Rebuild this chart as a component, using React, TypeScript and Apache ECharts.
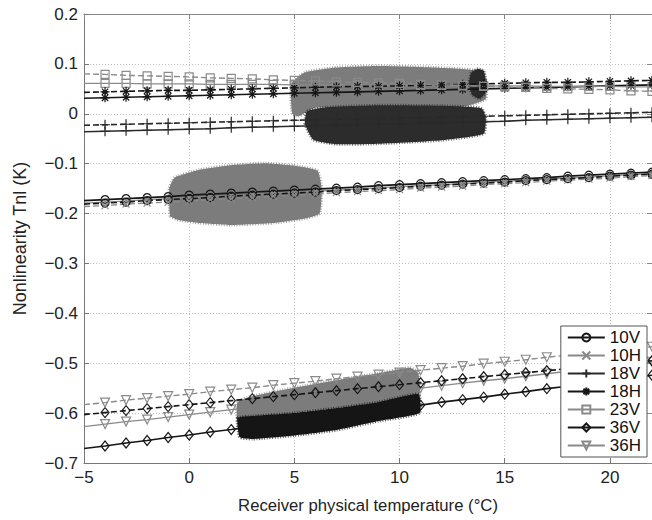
import React, { useEffect, useRef } from "react";
import * as echarts from "echarts";

// Receiver physical temperature (°C) at which the fitted curves are sampled
const temps = [-5, -4, -3, -2, -1, 0, 1, 2, 3, 4, 5, 6, 7, 8, 9, 10, 11, 12, 13, 14, 15, 16, 17, 18, 19, 20, 21, 22];

// Solid curves (one per channel)
const v10V = [-0.174, -0.172, -0.170, -0.168, -0.166, -0.163, -0.161, -0.159, -0.157, -0.155, -0.153, -0.151, -0.149, -0.147, -0.144, -0.142, -0.140, -0.138, -0.136, -0.134, -0.132, -0.130, -0.128, -0.125, -0.123, -0.121, -0.119, -0.117];
const v10H = [-0.179, -0.177, -0.175, -0.172, -0.170, -0.168, -0.166, -0.164, -0.162, -0.159, -0.157, -0.155, -0.153, -0.151, -0.148, -0.146, -0.144, -0.142, -0.140, -0.137, -0.135, -0.133, -0.131, -0.129, -0.127, -0.124, -0.122, -0.120];
const v18V = [-0.036, -0.035, -0.034, -0.033, -0.032, -0.031, -0.030, -0.028, -0.027, -0.026, -0.025, -0.024, -0.023, -0.022, -0.021, -0.020, -0.019, -0.018, -0.017, -0.016, -0.015, -0.013, -0.012, -0.011, -0.010, -0.009, -0.008, -0.007];
const v18H = [0.031, 0.032, 0.033, 0.034, 0.035, 0.036, 0.037, 0.038, 0.039, 0.040, 0.041, 0.042, 0.043, 0.044, 0.045, 0.046, 0.047, 0.048, 0.049, 0.050, 0.051, 0.052, 0.053, 0.054, 0.055, 0.056, 0.057, 0.058];
const v23V = [0.061, 0.061, 0.061, 0.060, 0.060, 0.060, 0.059, 0.059, 0.059, 0.059, 0.058, 0.058, 0.058, 0.058, 0.057, 0.057, 0.057, 0.057, 0.056, 0.056, 0.056, 0.056, 0.055, 0.055, 0.055, 0.055, 0.054, 0.054];
const v36V = [-0.671, -0.666, -0.660, -0.655, -0.649, -0.644, -0.638, -0.633, -0.627, -0.622, -0.617, -0.611, -0.606, -0.600, -0.595, -0.589, -0.584, -0.578, -0.573, -0.568, -0.562, -0.557, -0.551, -0.546, -0.540, -0.535, -0.529, -0.524];
const v36H = [-0.627, -0.622, -0.617, -0.613, -0.608, -0.603, -0.598, -0.593, -0.588, -0.584, -0.579, -0.574, -0.569, -0.564, -0.560, -0.555, -0.550, -0.545, -0.540, -0.535, -0.531, -0.526, -0.521, -0.516, -0.511, -0.507, -0.502, -0.497];

// Dashed curves (second estimate per channel)
const d10V = [-0.181, -0.179, -0.177, -0.174, -0.172, -0.170, -0.168, -0.165, -0.163, -0.161, -0.159, -0.157, -0.154, -0.152, -0.150, -0.148, -0.145, -0.143, -0.141, -0.139, -0.137, -0.134, -0.132, -0.130, -0.128, -0.125, -0.123, -0.121];
const d10H = [-0.186, -0.184, -0.181, -0.179, -0.177, -0.175, -0.172, -0.170, -0.168, -0.165, -0.163, -0.161, -0.158, -0.156, -0.154, -0.152, -0.149, -0.147, -0.145, -0.142, -0.140, -0.138, -0.135, -0.133, -0.131, -0.129, -0.126, -0.124];
const d18V = [-0.023, -0.022, -0.021, -0.020, -0.019, -0.018, -0.017, -0.016, -0.015, -0.014, -0.013, -0.012, -0.011, -0.010, -0.010, -0.009, -0.008, -0.007, -0.006, -0.005, -0.004, -0.003, -0.002, -0.001, 0.000, 0.001, 0.002, 0.003];
const d18H = [0.043, 0.044, 0.045, 0.046, 0.047, 0.047, 0.048, 0.049, 0.050, 0.051, 0.052, 0.053, 0.054, 0.055, 0.055, 0.056, 0.057, 0.058, 0.059, 0.060, 0.061, 0.062, 0.063, 0.063, 0.064, 0.065, 0.066, 0.067];
const d23V = [0.080, 0.079, 0.077, 0.076, 0.075, 0.074, 0.072, 0.071, 0.070, 0.068, 0.067, 0.066, 0.064, 0.063, 0.062, 0.061, 0.059, 0.058, 0.057, 0.055, 0.054, 0.053, 0.051, 0.050, 0.049, 0.048, 0.046, 0.045];
const d36V = [-0.603, -0.599, -0.595, -0.591, -0.587, -0.583, -0.579, -0.575, -0.571, -0.567, -0.563, -0.559, -0.555, -0.551, -0.547, -0.543, -0.539, -0.535, -0.531, -0.527, -0.523, -0.519, -0.515, -0.511, -0.507, -0.503, -0.499, -0.495];
const d36H = [-0.583, -0.579, -0.574, -0.570, -0.566, -0.562, -0.557, -0.553, -0.549, -0.544, -0.540, -0.536, -0.531, -0.527, -0.523, -0.519, -0.514, -0.510, -0.506, -0.501, -0.497, -0.493, -0.488, -0.484, -0.480, -0.476, -0.471, -0.467];

// Outlines of the dense measurement clouds [temperature, Tnl]
const cloud10 = [[-0.9, -0.205], [-0.95, -0.15], [-0.7, -0.128], [0.5, -0.112], [2, -0.103], [3.6, -0.099], [5, -0.104], [6.1, -0.114], [6.3, -0.15], [6.2, -0.2], [5.5, -0.21], [4, -0.219], [2, -0.223], [0.5, -0.219], [-0.5, -0.213]];
const cloudUpper = [[4.9, 0.0], [4.85, 0.06], [5.5, 0.083], [7, 0.093], [9, 0.096], [11, 0.094], [13, 0.09], [14.0, 0.083], [14.1, 0.03], [13, 0.014], [9, 0.012], [6, 0.012], [5.2, -0.005]];
const cloudUpperEdge = [[13.3, 0.06], [13.4, 0.082], [13.7, 0.09], [14.0, 0.086], [14.1, 0.065], [14.05, 0.04], [13.8, 0.03], [13.45, 0.038]];
const cloudMid = [[5.5, -0.02], [5.6, 0.005], [6.5, 0.013], [9, 0.017], [12, 0.016], [13.9, 0.011], [14.1, -0.01], [14.0, -0.04], [12, -0.053], [9, -0.06], [7, -0.061], [5.9, -0.052]];
const cloud36Gray = [[2.3, -0.615], [2.3, -0.578], [3, -0.566], [5, -0.549], [7, -0.534], [9, -0.52], [10.5, -0.509], [10.9, -0.52], [10.9, -0.57], [9, -0.58], [7, -0.59], [5, -0.6], [3, -0.612]];
const cloud36Black = [[2.3, -0.61], [3, -0.606], [5, -0.6], [7, -0.59], [9, -0.578], [10.9, -0.562], [10.95, -0.6], [9, -0.616], [7, -0.634], [5, -0.645], [3, -0.652], [2.4, -0.648]];

const legendNames = ["10V", "10H", "18V", "18H", "23V", "36V", "36H"];
const xTicks = { min: -5, max: 22, interval: 5 };
const yTicks = { min: -0.7, max: 0.2, interval: 0.1 };

const BLACK = "#161616";
const DARK = "#2a2a2a";
const GRAY = "#8a8a8a";
const FONT = "Liberation Sans, Arial, Helvetica, sans-serif";

const SYM = {
  circle: "circle",
  cross: "path://M0,0L10,10M10,0L0,10",
  plus: "path://M5,0L5,10M0,5L10,5",
  star: "path://M5,0L5,10M0,5L10,5M1.5,1.5L8.5,8.5M8.5,1.5L1.5,8.5",
  square: "rect",
  diamond: "diamond",
  tri: "triangle",
};

function line(name: string, values: number[], color: string, symbol: string, size: any, dashed: boolean, z: number, rotate = 0) {
  return {
    type: "line",
    name,
    z,
    color,
    data: temps.map((t, i) => (i === 0 ? { value: [t, values[i]], symbol: "none" } : [t, values[i]])),
    symbol,
    symbolSize: size,
    symbolRotate: rotate,
    showAllSymbol: true,
    lineStyle: { color, width: color === GRAY ? 1.4 : 1.6, type: dashed ? [6, 3] : "solid" },
    itemStyle: { color: "rgba(0,0,0,0)", borderColor: color, borderWidth: 1.2 },
    emphasis: { disabled: true },
    silent: true,
  };
}

function cloud(name: string, pts: number[][], fill: string, z: number) {
  return {
    type: "custom",
    name,
    z,
    silent: true,
    data: [[0, 0]],
    renderItem: (_p: any, api: any) => ({
      type: "polygon",
      shape: { points: pts.map((p) => api.coord(p)), smooth: 0.15 },
      style: { fill, stroke: fill, lineWidth: 3, strokeOpacity: 0.7, lineDash: [1, 1.6] },
    }),
  };
}

export default function App() {
  const ref = useRef<HTMLDivElement>(null);
  useEffect(() => {
    document.body.style.margin = "0";
    const chart = echarts.init(ref.current!, null, { renderer: "svg" });
    const minus = (s: string) => s.replace("-", "\u2212");
    chart.setOption({
      animation: false,
      backgroundColor: "#fff",
      textStyle: { fontFamily: FONT },
      grid: { left: 84, top: 14, right: 0, bottom: 57, show: false },
      legend: {
        data: legendNames,
        z: 20,
        orient: "vertical",
        right: 5,
        bottom: 63,
        itemWidth: 37,
        itemHeight: 10,
        itemGap: 1,
        padding: [3, 6, 3, 6],
        borderColor: "#555",
        borderWidth: 1,
        backgroundColor: "#fff",
        selectedMode: false,
        textStyle: { fontSize: 17, fontFamily: FONT, color: "#111" },
      },
      xAxis: [
        {
          type: "value",
          ...xTicks,
          name: "Receiver physical temperature (°C)",
          nameLocation: "middle",
          nameGap: 34,
          nameTextStyle: { fontSize: 16.7, color: "#222", fontFamily: FONT },
          axisLine: { show: true, onZero: false, lineStyle: { color: "#777" } },
          axisTick: { show: true, inside: true, length: 5, lineStyle: { color: "#777" } },
          axisLabel: { fontSize: 17, color: "#222", margin: 6, showMaxLabel: false, formatter: (v: number) => minus(String(v)) },
          splitLine: { show: true, lineStyle: { color: "#bdbdbd", type: [1, 2], width: 1 } },
        },
        {
          type: "value",
          ...xTicks,
          position: "top",
          axisLine: { show: true, onZero: false, lineStyle: { color: "#888" } },
          axisTick: { show: true, inside: true, length: 5, lineStyle: { color: "#888" } },
          axisLabel: { show: false },
          splitLine: { show: false },
        },
      ],
      yAxis: [
        {
          type: "value",
          ...yTicks,
          name: "Nonlinearity Tnl (K)",
          nameLocation: "middle",
          nameGap: 55,
          nameTextStyle: { fontSize: 18, color: "#222", fontFamily: FONT },
          axisLine: { show: true, onZero: false, lineStyle: { color: "#777" } },
          axisTick: { show: true, inside: true, length: 5, lineStyle: { color: "#777" } },
          axisLabel: {
            fontSize: 17,
            color: "#222",
            margin: 6,
            formatter: (v: number) => (Math.abs(v) < 1e-9 ? "0" : minus(v.toFixed(1))),
          },
          splitLine: { show: true, lineStyle: { color: "#bdbdbd", type: [1, 2], width: 1 } },
        },
        {
          type: "value",
          ...yTicks,
          position: "right",
          axisLine: { show: true, onZero: false, lineStyle: { color: "#888" } },
          axisTick: { show: true, inside: true, length: 5, lineStyle: { color: "#888" } },
          axisLabel: { show: false },
          splitLine: { show: false },
        },
      ],
      series: [
        cloud("cloud10", cloud10, "#7c7c7c", 1),
        cloud("cloudUpper", cloudUpper, "#7c7c7c", 1),
        cloud("cloudUpperEdge", cloudUpperEdge, "#2a2a2a", 1),
        cloud("cloudMid", cloudMid, "#2c2c2c", 1),
        line("36V", v36V, BLACK, SYM.diamond, [8, 10], false, 2),
        line("36H", v36H, GRAY, SYM.tri, 9, false, 2, 180),
        cloud("cloud36Gray", cloud36Gray, "#7c7c7c", 3),
        cloud("cloud36Black", cloud36Black, "#151515", 3),
        line("10V", v10V, BLACK, SYM.circle, 8, false, 4),
        line("10H", v10H, GRAY, SYM.cross, 7, false, 4),
        line("18V", v18V, DARK, SYM.plus, 10, false, 4),
        line("18H", v18H, BLACK, SYM.star, 9, false, 4),
        line("23V", v23V, GRAY, SYM.square, 8, false, 4),
        line("10V dashed", d10V, BLACK, SYM.circle, 8, true, 4),
        line("10H dashed", d10H, GRAY, SYM.cross, 7, true, 4),
        line("18V dashed", d18V, DARK, SYM.plus, 10, true, 4),
        line("18H dashed", d18H, BLACK, SYM.star, 9, true, 4),
        line("23V dashed", d23V, GRAY, SYM.square, 8, true, 4),
        line("36V dashed", d36V, BLACK, SYM.diamond, [8, 10], true, 4),
        line("36H dashed", d36H, GRAY, SYM.tri, 9, true, 4, 180),
      ],
    });
    return () => chart.dispose();
  }, []);
  return <div ref={ref} style={{ width: 652, height: 520 }} />;
}
